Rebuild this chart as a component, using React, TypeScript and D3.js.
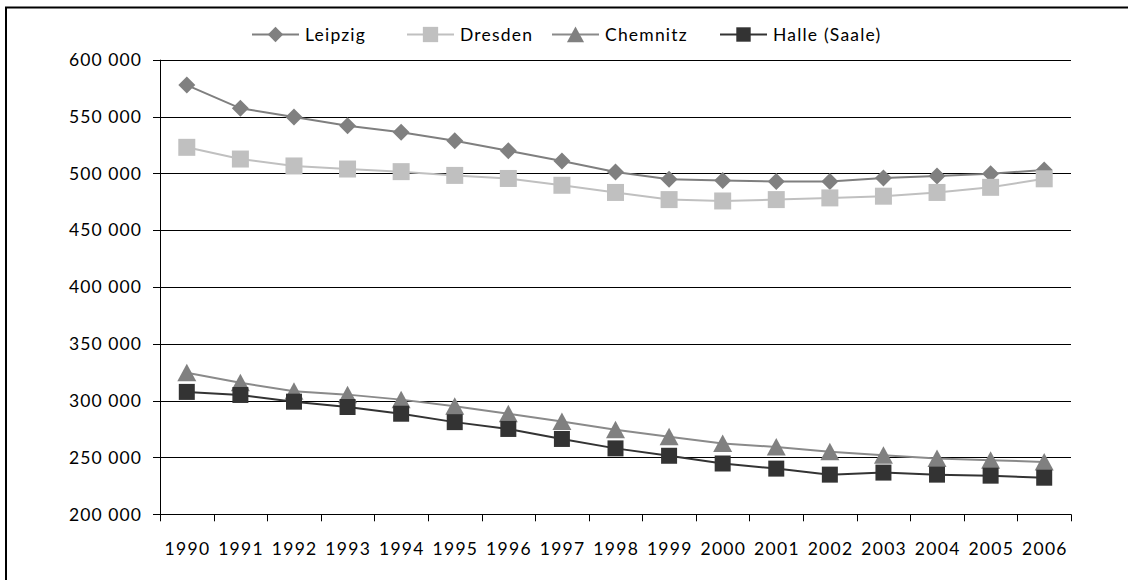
import React from "react";
import * as d3 from "d3";

const years = ["1990","1991","1992","1993","1994","1995","1996","1997","1998","1999","2000","2001","2002","2003","2004","2005","2006"];
const leipzig = [577700, 557200, 549600, 541900, 536100, 528700, 519800, 510800, 501200, 494900, 493700, 492800, 492800, 495800, 497600, 499700, 503000];
const dresden = [522900, 512600, 506500, 503800, 501500, 498200, 495500, 489500, 483200, 476900, 475700, 476900, 478400, 479900, 483200, 487700, 495200];
const chemnitz = [324600, 315700, 308300, 305300, 300900, 295000, 288500, 281700, 274300, 268300, 262400, 259200, 255000, 252000, 249100, 247600, 246100];
const halle = [307700, 305000, 299100, 294400, 288500, 281100, 275100, 266300, 258000, 251500, 244700, 240200, 234900, 236700, 234900, 234000, 232200];
const yTicks = [200000, 250000, 300000, 350000, 400000, 450000, 500000, 550000, 600000];

type Series = { name: string; values: number[]; line: string; fill: string; marker: string };
const seriesList: Series[] = [
  { name: "Leipzig", values: leipzig, line: "#7f7f7f", fill: "#808080", marker: "diamond" },
  { name: "Dresden", values: dresden, line: "#c0c0c0", fill: "#c0c0c0", marker: "square" },
  { name: "Chemnitz", values: chemnitz, line: "#8a8a8a", fill: "#808080", marker: "triangle" },
  { name: "Halle (Saale)", values: halle, line: "#333333", fill: "#333333", marker: "squareDark" },
];

const W = 1128, H = 580;
const L = 160, R = 1071, T = 59.7, B = 514.3;
const FONT = "Lato, 'Open Sans', sans-serif";

const x = d3.scaleBand<string>().domain(years).range([L, R]).padding(0);
const y = d3.scaleLinear().domain([200000, 600000]).range([B, T]);
const fmt = d3.formatLocale({ decimal: ",", thousands: " ", grouping: [3], currency: ["", ""] }).format(",d");

function markerPath(kind: string, s = 1): string {
  const k = (v: number) => v * s;
  switch (kind) {
    case "diamond": return `M0,${k(-8.5)}L${k(8.5)},0L0,${k(8.5)}L${k(-8.5)},0Z`;
    case "square": return `M${k(-8.5)},${k(-8.5)}H${k(8.5)}V${k(8.5)}H${k(-8.5)}Z`;
    case "squareDark": return `M${k(-8)},${k(-8)}H${k(8)}V${k(8)}H${k(-8)}Z`;
    case "triangle": return `M0,${k(-9)}L${k(9.5)},${k(8.5)}L${k(-9.5)},${k(8.5)}Z`;
    default: return "";
  }
}

const legendX = [252, 407, 552, 720];
const LEG_Y = 34.5;

export default function App() {
  const cx = (i: number) => (x(years[i]) as number) + x.bandwidth() / 2;
  const line = d3.line<number>().x((_, i) => cx(i)).y((v) => y(v));
  const boundaries = years.map((yr) => x(yr) as number).concat([R]);
  return (
    <svg width={W} height={H} style={{ position: "fixed", left: 0, top: 0, background: "#fff" }}>
      <rect x={0} y={0} width={W} height={H} fill="#fff" />
      <rect x={6} y={7.5} width={W + 50} height={H + 50} fill="none" stroke="#000" strokeWidth={2} />
      {yTicks.map((t) => (
        <g key={t}>
          <line x1={L} x2={R} y1={Math.round(y(t)) + 0.5} y2={Math.round(y(t)) + 0.5} stroke="#000" strokeWidth={1} />
          <line x1={L - 7} x2={L} y1={Math.round(y(t)) + 0.5} y2={Math.round(y(t)) + 0.5} stroke="#000" strokeWidth={1} />
          <text x={142} y={y(t)} dy="0.36em" textAnchor="end" fontFamily={FONT} fontSize={17.5} letterSpacing={1.1} fill="#000">
            {fmt(t)}
          </text>
        </g>
      ))}
      <line x1={L + 0.5} x2={L + 0.5} y1={T} y2={B} stroke="#000" strokeWidth={1} />
      {boundaries.map((b, i) => (
        <line key={i} x1={Math.round(b) + 0.5} x2={Math.round(b) + 0.5} y1={B} y2={B + 7} stroke="#000" strokeWidth={1} />
      ))}
      {years.map((yr, i) => (
        <text key={yr} x={cx(i) + 0.7} y={555} textAnchor="middle" fontFamily={FONT} fontSize={17.5} letterSpacing={1.3} fill="#000">
          {yr}
        </text>
      ))}
      {seriesList.map((s) => (
        <g key={s.name}>
          <path d={line(s.values) || ""} fill="none" stroke={s.line} strokeWidth={2} />
          {s.values.map((v, i) => (
            <path key={i} d={markerPath(s.marker)} transform={`translate(${cx(i)},${y(v)})`} fill={s.fill} />
          ))}
        </g>
      ))}
      {seriesList.map((s, k) => {
        const x0 = legendX[k];
        return (
          <g key={"lg" + s.name}>
            <line x1={x0} x2={x0 + 47} y1={LEG_Y} y2={LEG_Y} stroke={s.line} strokeWidth={2} />
            <path d={markerPath(s.marker, 0.9)} transform={`translate(${x0 + 23.5},${LEG_Y})`} fill={s.fill} />
            <text x={x0 + 53} y={LEG_Y} dy="0.36em" fontFamily={FONT} fontSize={17.5} letterSpacing={1.2} fill="#000">
              {s.name}
            </text>
          </g>
        );
      })}
    </svg>
  );
}
